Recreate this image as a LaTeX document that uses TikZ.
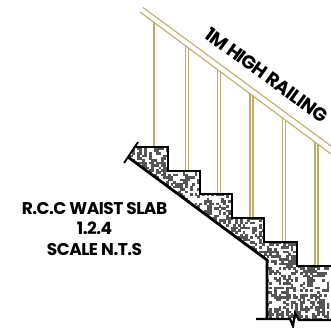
\documentclass[tikz,border=0pt]{standalone}
\usepackage{fontspec}
\setmainfont[LetterSpace=-3]{Poppins}[BoldFont={Poppins Bold}]
\definecolor{rail}{HTML}{C2AB6A}
\definecolor{fleck}{HTML}{555555}
\newcount\rseed
\rseed=12345
\newcommand{\nextrand}{%
  \global\rseed=\numexpr\rseed*171-30269*(\rseed*171/30269)\relax
  \ifnum\rseed<0 \global\advance\rseed by 30269 \fi}
\tikzset{
  railline/.style={draw=rail,line width=1.1pt},
  outline/.style={draw=black,line width=2.8pt,line cap=butt,line join=miter},
  labeltext/.style={align=center,font=\fontsize{17}{20.5}\selectfont\bfseries,text=black,inner sep=0pt}
}
\begin{document}
\begin{tikzpicture}[x=1pt,y=-1pt]
\useasboundingbox (0,0) rectangle (331,328);
% posts
\foreach \px/\py/\pe in {185.5/45.8/171,188.5/48/171,217.5/69.5/194,220.5/71.7/194,250/93.6/218,253/95.8/218,282.5/117.7/242,285.5/120/242,315/141.9/266,318/144/266}{
  \draw[railline] (\px,\py) -- (\px,\pe);
}
\draw[railline,line width=1.4pt] (154,22.4) -- (154,147);
% handrail
\draw[railline] (143,7.5) -- (331,146);
\draw[railline] (140,12) -- (331,154);
% concrete
\begin{scope}
\clip (135,147) -- (168,147) -- (168,171) -- (200,171) -- (200,194) -- (232,194) -- (232,218) -- (264,218) -- (264,242) -- (297,242) -- (297,266) -- (329,266) -- (329,319) -- (267,319) -- (267,260) -- (128,157) -- cycle;
\foreach \gy in {0,...,74}{
  \foreach \gx in {0,...,88}{
    \nextrand
    \ifnum\rseed<13000
      \fill[fleck] ({125+\gx*2.4},{145+\gy*2.4}) rectangle ++(2.7,2.7);
    \fi
  }
}
\end{scope}
% outline
\coordinate (topstart) at (135,147);
\coordinate (waistend) at (128,157);
\coordinate (breakleft) at (256,319);
\coordinate (breakright) at (331,320);
\draw[outline] (topstart) -- (168,147) -- (168,171) -- (200,171) -- (200,194) -- (232,194) -- (232,218) -- (264,218) -- (264,242) -- (297,242) -- (297,266) -- (331,266);
\draw[outline] (waistend) -- (267,260) -- (267,319);
\draw[draw=black,line width=2.2pt] (breakleft) -- (290,319) -- (293,326) -- (295,313) -- (299,320) -- (breakright);
\draw[draw=black,line width=1.8pt] (138,142) -- (124,163);
% labels
\node[labeltext] (slab) at (94.5,229) {R.C.C WAIST SLAB\\1.2.4\\SCALE N.T.S};
\node[labeltext,font=\fontsize{18.7}{20.5}\selectfont\bfseries,rotate=-36] (railing) at (266.5,75) {1M HIGH RAILING};
\end{tikzpicture}
\end{document}
